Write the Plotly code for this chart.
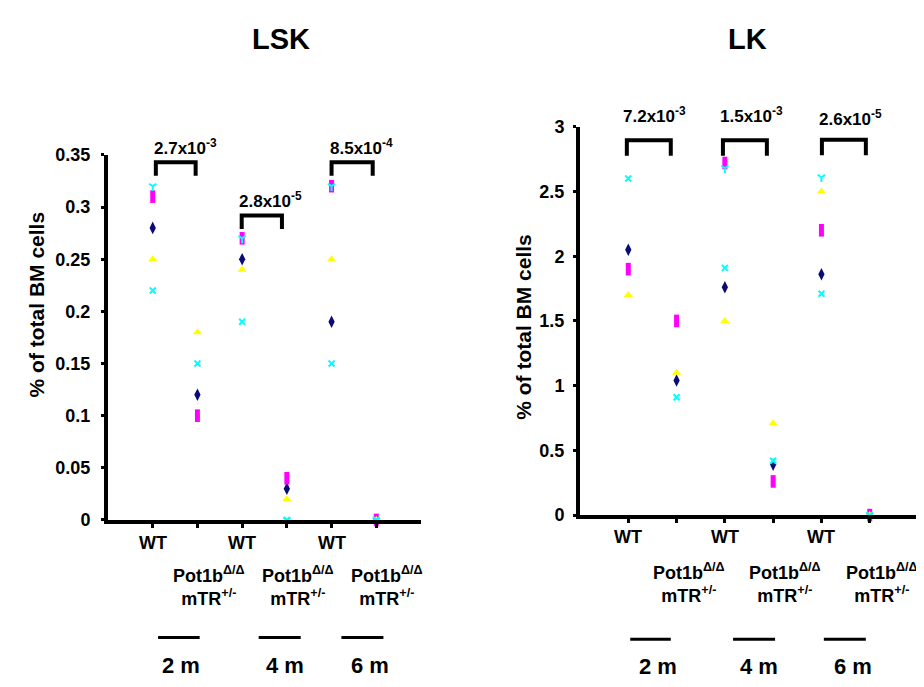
import plotly.graph_objects as go

W, H = 924, 687

# ---------------- data ----------------
categories = [1, 2, 3, 4, 5, 6]
wt_label = "WT"
ko_label = "Pot1b<sup>Δ/Δ</sup><br>mTR<sup>+/-</sup>"
age_labels = ["2 m", "4 m", "6 m"]

lsk_mouse1 = [0.28, 0.12, 0.25, 0.03, 0.19, 0.0]
lsk_mouse2 = [0.31, 0.10, 0.27, 0.04, 0.32, 0.0]
lsk_mouse3 = [0.25, 0.18, 0.24, 0.02, 0.25, 0.0]
lsk_mouse4 = [0.22, 0.15, 0.19, 0.0, 0.15, 0.0]
lsk_mouse5 = [0.32, None, 0.27, 0.0, 0.32, 0.0]
lsk_pvalues = ["2.7x10<sup>-3</sup>", "2.8x10<sup>-5</sup>", "8.5x10<sup>-4</sup>"]
lsk_yticks = [0, 0.05, 0.1, 0.15, 0.2, 0.25, 0.3, 0.35]
lsk_yticktext = ["0", "0.05", "0.1", "0.15", "0.2", "0.25", "0.3", "0.35"]

lk_mouse1 = [2.05, 1.04, 1.76, 0.39, 1.86, 0.0]
lk_mouse2 = [1.90, 1.50, 2.72, 0.26, 2.20, 0.0]
lk_mouse3 = [1.70, 1.10, 1.50, 0.71, 2.50, 0.0]
lk_mouse4 = [2.60, 0.91, 1.91, 0.42, 1.71, 0.0]
lk_mouse5 = [None, None, 2.68, None, 2.61, 0.0]
lk_pvalues = ["7.2x10<sup>-3</sup>", "1.5x10<sup>-3</sup>", "2.6x10<sup>-5</sup>"]
lk_yticks = [0, 0.5, 1, 1.5, 2, 2.5, 3]
lk_yticktext = ["0", "0.5", "1", "1.5", "2", "2.5", "3"]

# ---------------- styles ----------------
FONT = "Liberation Sans, Arial, sans-serif"
series_styles = [
    dict(symbol="diamond-tall", color="#0a0a78", size=9, line=dict(width=0)),
    dict(symbol="line-ns-open", color="#ff00ff", size=9, line=dict(width=5, color="#ff00ff")),
    dict(symbol="triangle-up", color="#ffff00", size=8, line=dict(width=0)),
    dict(symbol="x-thin-open", color="#00ffff", size=6, line=dict(width=2, color="#00ffff")),
    dict(symbol="y-down-open", color="#00ffff", size=6, line=dict(width=2, color="#00ffff")),
]


def px2py(ypx):
    return 1 - ypx / H


bold = lambda s: "<b>%s</b>" % s

fig = go.Figure()

panels = [
    dict(name="LSK", xa="x", ya="y", series=[lsk_mouse1, lsk_mouse2, lsk_mouse3, lsk_mouse4, lsk_mouse5]),
    dict(name="LK", xa="x2", ya="y2", series=[lk_mouse1, lk_mouse2, lk_mouse3, lk_mouse4, lk_mouse5]),
]

for p in panels:
    for i, vals in enumerate(p["series"]):
        st = series_styles[i]
        fig.add_trace(go.Scatter(
            x=categories, y=vals, mode="markers", xaxis=p["xa"], yaxis=p["ya"],
            name="Mouse %d" % (i + 1), showlegend=False, cliponaxis=False,
            marker=dict(symbol=st["symbol"], color=st["color"], size=st["size"], line=st["line"]),
        ))

axis_common = dict(showline=True, linewidth=4, linecolor="black", showgrid=False, zeroline=False,
                   ticks="outside", tickcolor="black", mirror=False)

fig.update_layout(
    width=W, height=H, margin=dict(l=0, r=0, t=0, b=0),
    paper_bgcolor="white", plot_bgcolor="white",
    font=dict(family=FONT, color="black"),
    xaxis=dict(domain=[100 / W, 413 / W], range=[0, 7], tickvals=categories, showticklabels=False,
               ticklen=4, tickwidth=3, anchor="y", **axis_common),
    yaxis=dict(domain=[px2py(517), px2py(141)], range=[0, 0.35], tickvals=lsk_yticks,
               ticktext=[bold(t) for t in lsk_yticktext], ticklabelstandoff=7,
               ticklen=3, tickwidth=3, tickfont=dict(size=18, family=FONT), anchor="x", **axis_common),
    xaxis2=dict(domain=[572 / W, 910 / W], range=[0, 7], tickvals=categories, showticklabels=False,
                ticklen=4, tickwidth=3, anchor="y2", **axis_common),
    yaxis2=dict(domain=[px2py(512), px2py(112)], range=[0, 3], tickvals=lk_yticks,
                ticktext=[bold(t) for t in lk_yticktext], ticklabelstandoff=5,
                ticklen=3, tickwidth=3, tickfont=dict(size=18, family=FONT), anchor="x2", **axis_common),
)

ann = []
shapes = []

# titles
ann.append(dict(text=bold("LSK"), x=273 / W, y=px2py(22), xref="paper", yref="paper", showarrow=False,
                font=dict(size=29), xanchor="center", yanchor="middle"))
ann.append(dict(text=bold("LK"), x=739 / W, y=px2py(22), xref="paper", yref="paper", showarrow=False,
                font=dict(size=29), xanchor="center", yanchor="middle"))
# y titles
ann.append(dict(text=bold("% of total BM cells"), x=28 / W, y=px2py(295), xref="paper", yref="paper",
                showarrow=False, textangle=-90, font=dict(size=21), xanchor="center", yanchor="middle"))
ann.append(dict(text=bold("% of total BM cells"), x=516 / W, y=px2py(318), xref="paper", yref="paper",
                showarrow=False, textangle=-90, font=dict(size=21), xanchor="center", yanchor="middle"))

# panel geometry (pixel layout constants)
geo = {
    "x": dict(wt_y=541, ko_y=585, bar_y=638, age_y=667,
              bars=[(1.12, 2.05), (3.37, 4.31), (5.22, 6.16)], age_x=[1.63, 3.95, 5.85],
              br=[(1.07, 1.96, 0.330, 0.343), (2.99, 3.89, 0.279, 0.292), (5.0, 5.92, 0.330, 0.343)],
              pv=[(1.74, 133), (3.64, 187), (5.67, 133)], pvals=lsk_pvalues),
    "x2": dict(wt_y=535, ko_y=582, bar_y=640, age_y=668,
               bars=[(1.04, 1.88), (3.17, 4.04), (5.05, 5.92)], age_x=[1.61, 3.70, 5.66],
               br=[(0.97, 1.88, 2.775, 2.895), (2.96, 3.87, 2.775, 2.895), (5.01, 5.92, 2.78, 2.9)],
               pv=[(1.55, 100), (3.56, 100), (5.61, 103)], pvals=lk_pvalues),
}

for xa, ya in [("x", "y"), ("x2", "y2")]:
    g = geo[xa]
    for c in categories:
        if c % 2 == 1:
            ann.append(dict(text=bold(wt_label), x=c, y=px2py(g["wt_y"]), xref=xa, yref="paper",
                            showarrow=False, font=dict(size=18), xanchor="center", yanchor="middle"))
        else:
            ann.append(dict(text=bold(ko_label), x=c + 0.25, y=px2py(g["ko_y"]), xref=xa, yref="paper",
                            showarrow=False, font=dict(size=18), xanchor="center", yanchor="middle",
                            align="center"))
    for (x0, x1), ax_, lab in zip(g["bars"], g["age_x"], age_labels):
        shapes.append(dict(type="line", xref=xa, yref="paper", x0=x0, x1=x1,
                           y0=px2py(g["bar_y"]), y1=px2py(g["bar_y"]), line=dict(color="black", width=3)))
        ann.append(dict(text=bold(lab), x=ax_, y=px2py(g["age_y"]), xref=xa, yref="paper",
                        showarrow=False, font=dict(size=22), xanchor="center", yanchor="middle"))
    for (x0, x1, yb, yt), (tx, ty), pv in zip(g["br"], g["pv"], g["pvals"]):
        shapes.append(dict(type="path", xref=xa, yref=ya,
                           path="M %f,%f L %f,%f L %f,%f L %f,%f" % (x0, yb, x0, yt, x1, yt, x1, yb),
                           line=dict(color="black", width=4)))
        ann.append(dict(text=bold(pv), x=tx, y=px2py(ty), xref=xa, yref="paper",
                        showarrow=False, font=dict(size=17), xanchor="center", yanchor="middle"))

fig.update_layout(annotations=ann, shapes=shapes)
fig.write_html("out.html")
